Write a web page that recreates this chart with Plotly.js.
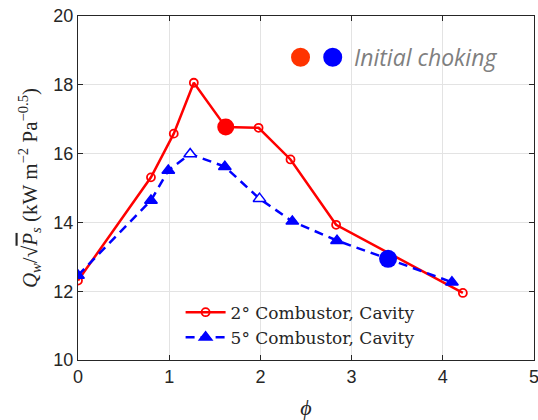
<!DOCTYPE html>
<html>
<head>
<meta charset="utf-8">
<script src="https://cdn.plot.ly/plotly-3.0.1.min.js"></script>
<style>html,body{margin:0;padding:0;background:#fff;}#chart{width:538px;height:420px;}</style>
</head>
<body>
<div id="chart"></div>
<script>
// 2° combustor, cavity
const phi2 = [0, 0.80, 1.05, 1.27, 1.62, 1.98, 2.33, 2.83, 4.22];
const q2   = [12.31, 15.31, 16.58, 18.06, 16.77, 16.75, 15.83, 13.93, 11.95];
// 5° combustor, cavity
const phi5 = [0, 0.80, 0.99, 1.23, 1.61, 1.99, 2.35, 2.84, 3.40, 4.10];
const q5   = [12.46, 14.64, 15.51, 15.99, 15.62, 14.69, 14.03, 13.47, 12.94, 12.26];
// Initial choking points
const choke2Phi = [1.62], choke2Q = [16.77];
const choke5Phi = [3.40], choke5Q = [12.94];
const xTicks = [0, 1, 2, 3, 4, 5];
const yTicks = [10, 12, 14, 16, 18, 20];
const name2 = '2° Combustor, Cavity';
const name5 = '5° Combustor, Cavity';
const annText = '<i>Initial choking</i>';

const fill5 = q5.map((v, i) => (i === 3 || i === 5) ? '#ffffff' : '#0000ff');

const traces = [
  {x: phi2, y: q2, name: name2, mode: 'lines+markers', type: 'scatter',
   line: {color: '#ff0000', width: 2.5},
   marker: {symbol: 'circle-open', size: 8, color: '#ff0000', line: {width: 1.8, color: '#ff0000'}}},
  {x: phi5, y: q5, name: name5, mode: 'lines+markers', type: 'scatter',
   line: {color: '#0000ff', width: 2.5, dash: '9px,6px'},
   marker: {symbol: 'triangle-up', size: 11, color: fill5, line: {width: 1.5, color: '#0000ff'}}},
  {x: choke2Phi, y: choke2Q, mode: 'markers', type: 'scatter', showlegend: false,
   marker: {symbol: 'circle', size: 17, color: '#ff0000'}},
  {x: choke5Phi, y: choke5Q, mode: 'markers', type: 'scatter', showlegend: false,
   marker: {symbol: 'circle', size: 18, color: '#0000ff'}}
];

const axisCommon = {
  showline: true, mirror: 'ticks', linecolor: '#262626', linewidth: 1,
  ticks: 'inside', ticklen: 5, tickcolor: '#262626',
  showgrid: true, gridcolor: '#e3e3e3', gridwidth: 1, zeroline: false,
  ticklabeloverflow: 'allow',
  tickfont: {family: 'Liberation Sans, Arial, sans-serif', size: 18, color: '#262626'}
};

const layout = {
  width: 538, height: 420,
  margin: {l: 78, r: 4, t: 16, b: 60},
  paper_bgcolor: '#ffffff', plot_bgcolor: '#ffffff',
  xaxis: Object.assign({}, axisCommon, {
    range: [0, 5], tickvals: xTicks, ticktext: xTicks.map(String),
    title: {text: '<i>ϕ</i>', font: {family: 'Liberation Serif, serif', size: 22, color: '#262626'}, standoff: 17}
  }),
  yaxis: Object.assign({}, axisCommon, {
    range: [10, 20], tickvals: yTicks, ticktext: yTicks.map(String),
    title: {text: '<i>Q</i><sub><i>w</i></sub>/√<span style="text-decoration:overline"><i>P</i></span><sub><i>s</i></sub> (kW m<sup>−2</sup> Pa<sup>−0.5</sup>)',
            font: {family: 'Liberation Serif, serif', size: 21, color: '#262626'}, standoff: 10}
  }),
  legend: {x: 0.225, y: 0.19, xanchor: 'left', yanchor: 'top',
           bgcolor: 'rgba(0,0,0,0)', borderwidth: 0,
           font: {family: 'DejaVu Serif, serif', size: 17, color: '#262626'},
           itemwidth: 40, tracegroupgap: 0},
  shapes: [
    {type: 'circle', xref: 'paper', yref: 'paper', xsizemode: 'pixel', ysizemode: 'pixel',
     xanchor: 0.488, yanchor: 0.880, x0: -9.5, x1: 9.5, y0: -9.5, y1: 9.5,
     fillcolor: '#ff3300', line: {width: 0}},
    {type: 'circle', xref: 'paper', yref: 'paper', xsizemode: 'pixel', ysizemode: 'pixel',
     xanchor: 0.5586, yanchor: 0.880, x0: -9.5, x1: 9.5, y0: -9.5, y1: 9.5,
     fillcolor: '#0000ff', line: {width: 0}}
  ],
  annotations: [
    {xref: 'paper', yref: 'paper', x: 0.601, y: 0.880, xanchor: 'left', yanchor: 'middle',
     text: annText, showarrow: false,
     font: {family: 'Open Sans, sans-serif', size: 23, color: '#7f7f7f'}}
  ],
  showlegend: true
};

Plotly.newPlot('chart', traces, layout, {displayModeBar: false, staticPlot: true});
</script>
</body>
</html>
